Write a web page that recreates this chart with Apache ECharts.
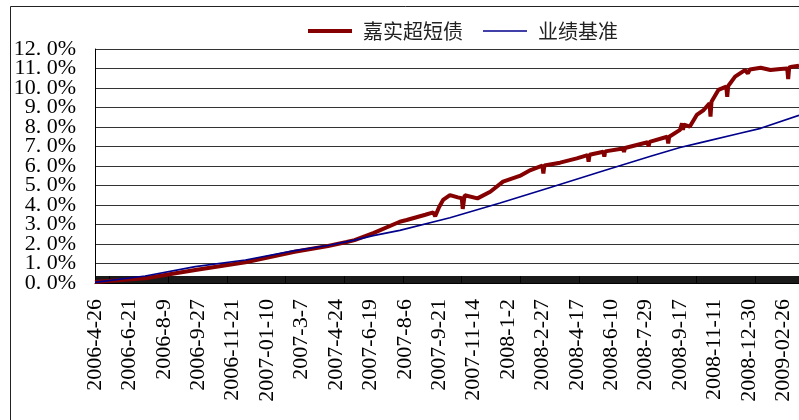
<!DOCTYPE html>
<html lang="zh">
<head>
	<meta charset="UTF-8">
	<title></title>
	<script src="https://cdn.jsdelivr.net/npm/echarts@6/dist/echarts.min.js"></script>
	<style>
		html, body{
			width: 100%;
			height: 100%;
			padding: 0;
			margin: 0;
			background: #fff;
		}
		#main{
			width: 799px;
			height: 420px;
		}
	</style>
</head>
<body>
	<div id="main"></div>
</body>
<script>
	// 交易日数量（横轴类目），每35个交易日标一个日期
	let dayCount = 717;
	let labelStep = 35;
	let tickLabels = [
		'2006-4-26', '2006-6-21', '2006-8-9', '2006-9-27', '2006-11-21',
		'2007-01-10', '2007-3-7', '2007-4-24', '2007-6-19', '2007-8-6',
		'2007-9-21', '2007-11-14', '2008-1-2', '2008-2-27', '2008-4-17',
		'2008-6-10', '2008-7-29', '2008-9-17', '2008-11-11', '2008-12-30',
		'2009-02-26'
	];
	let yTicks = [0, 12, 1];

	// 嘉实超短债 累计收益 [交易日序号, %]
	let fundData = [
		[0, 0.05], [51, 0.24], [102, 0.67], [153, 1.06], [203, 1.6], [237, 1.9],
		[256, 2.1], [264, 2.2], [283, 2.56], [310, 3.14], [317, 3.23], [336, 3.5],
		[344, 3.62], [346, 3.42], [350, 3.9], [354, 4.26], [361, 4.51], [369, 4.39],
		[373, 4.35], [374, 3.8], [376, 4.5], [378, 4.6], [389, 4.34], [402, 4.68],
		[415, 5.2], [432, 5.49], [443, 5.79], [455, 6.02], [456, 5.62], [457, 6.03],
		[473, 6.17], [490, 6.39], [501, 6.56], [502, 6.22], [503, 6.58], [517, 6.73],
		[518, 6.48], [519, 6.75], [537, 6.9], [538, 6.72], [539, 6.92], [562, 7.22],
		[563, 7.0], [564, 7.24], [582, 7.5], [583, 7.16], [584, 7.5], [595, 7.85],
		[597, 8.19], [598, 7.85], [599, 8.12], [605, 8.02], [612, 8.62], [619, 8.87],
		[625, 9.21], [626, 8.53], [627, 9.3], [634, 9.9], [642, 10.07], [643, 9.55],
		[644, 10.1], [651, 10.58], [661, 10.92], [664, 10.75], [666, 10.95], [677, 11.04],
		[687, 10.92], [697, 10.97], [704, 11.0], [705, 10.46], [706, 11.05], [709, 11.09],
		[716, 11.14]
	];

	// 业绩基准 [交易日序号, %]
	let benchData = [
		[0, 0.03], [51, 0.36], [102, 0.84], [153, 1.18], [203, 1.66], [237, 1.92],
		[264, 2.2], [283, 2.43], [310, 2.7], [361, 3.35], [412, 4.1], [463, 4.9],
		[514, 5.7], [565, 6.5], [595, 6.95], [616, 7.2], [656, 7.68], [677, 7.93],
		[716, 8.6]
	];

	let categories = [];
	for(let i = 0; i < dayCount; i++){
		categories.push(i);
	}

	let numFont = '"Liberation Serif", "DejaVu Serif", serif';
	let cjkFont = '"Noto Sans CJK SC", sans-serif';

	function pct(v){
		return v.toFixed(1).replace('.', '. ') + '%';
	}

	// 标签太密会被自动隐藏，两端的标签放到第二根轴上
	function yAxisCfg(isEnds){
		return {
			type: 'value',
			position: 'left',
			min: yTicks[0],
			max: yTicks[1],
			interval: yTicks[2],
			axisLine: {
				show: !isEnds,
				lineStyle: {color: '#000', width: 1}
			},
			axisTick: {show: false},
			axisLabel: {
				margin: 19,
				fontFamily: numFont,
				fontSize: 22,
				color: '#000',
				formatter: function(v){
					let end = (v == yTicks[0] || v == yTicks[1]);
					return end == isEnds ? pct(v) : '';
				}
			},
			splitLine: {
				show: !isEnds,
				showMinLine: true,
				showMaxLine: true,
				lineStyle: {color: '#333', width: 1}
			}
		};
	}

	let myChart = echarts.init(document.getElementById('main'));

	myChart.setOption({
		animation: false,
		legend: {
			left: 303,
			top: 16,
			itemWidth: 44,
			itemHeight: 14,
			itemGap: 20,
			textStyle: {
				fontFamily: cjkFont,
				fontSize: 20,
				color: '#222',
				padding: [0, 0, 0, 6]
			},
			data: [
				{name: '嘉实超短债', icon: 'path://M0,0H44V4H0Z'},
				{name: '业绩基准', icon: 'path://M0,0H44V1.6H0Z'}
			]
		},
		grid: {
			left: 95,
			right: 0,
			top: 49,
			bottom: 137,
			outerBoundsMode: 'none'
		},
		graphic: [{
			type: 'rect',
			shape: {x: 10.5, y: 6.5, width: 900, height: 500},
			style: {fill: 'none', stroke: '#222', lineWidth: 1},
			silent: true
		}],
		xAxis: {
			type: 'category',
			boundaryGap: false,
			data: categories,
			axisLine: {
				lineStyle: {color: '#000', width: 1}
			},
			axisTick: {
				show: true,
				interval: 0,
				inside: true,
				length: 7,
				lineStyle: {color: '#000', width: 0.9}
			},
			axisLabel: {
				interval: labelStep - 1,
				rotate: 90,
				margin: 16,
				fontFamily: numFont,
				fontSize: 22,
				color: '#000',
				formatter: function(value, index){
					return tickLabels[Math.round(index / labelStep)] || '';
				}
			},
			splitLine: {show: false}
		},
		yAxis: [yAxisCfg(false), yAxisCfg(true)],
		series: [{
			name: '嘉实超短债',
			type: 'line',
			data: fundData,
			symbol: 'none',
			lineStyle: {color: '#850000', width: 4},
			itemStyle: {color: '#850000'}
		}, {
			name: '业绩基准',
			type: 'line',
			data: benchData,
			symbol: 'none',
			lineStyle: {color: '#00008B', width: 1.6},
			itemStyle: {color: '#00008B'}
		}]
	});
</script>
</html>
